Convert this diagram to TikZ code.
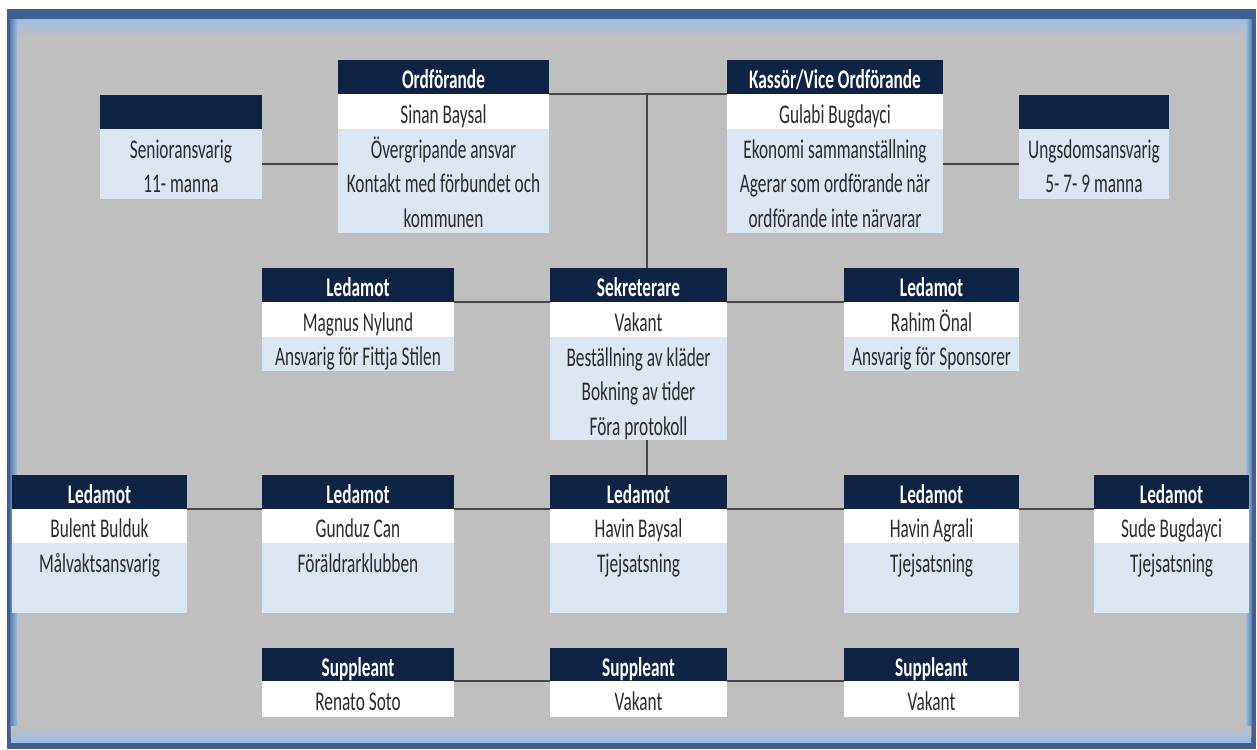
\documentclass[tikz,border=0pt]{standalone}
\usepackage{fontspec}
\setmainfont{Carlito}[FakeStretch=0.64]
\definecolor{navy}{HTML}{0F2345}
\definecolor{lightrow}{HTML}{DCE6F2}
\definecolor{bggray}{HTML}{BFBFBF}
\definecolor{frameblue}{HTML}{3D6192}
\definecolor{framelight}{HTML}{9FBCE2}
\definecolor{linegray}{HTML}{474747}
\definecolor{txtgray}{HTML}{2B2B2B}
\newcommand\cellnode[7]{%
  \node[#1, minimum width={((#4)-(#3))*1pt}, minimum height={((#6)-(#5))*1pt}] (#2) at (#3,#5) {#7};}
\newcommand\rowtext[4]{%
  \node[rowtxt] (#1) at ([yshift={-(#3)*34.6pt}]#2.north) {#4};}
\begin{document}
\begin{tikzpicture}[x=1pt,y=-1pt,
  every node/.style={font=\fontsize{27}{32}\selectfont},
  cellbase/.style={rectangle, inner sep=0pt, outer sep=0pt, anchor=north west,
    text height=27pt, text depth=3.6pt},
  hdrcell/.style={cellbase, fill=navy, text=white, font=\fontsize{27}{32}\selectfont\bfseries},
  whitecell/.style={cellbase, fill=white, text=txtgray},
  lightcell/.style={cellbase, fill=lightrow, text=txtgray},
  rowtxt/.style={inner sep=0pt, text height=27pt, text depth=3.6pt,
    minimum height=34.6pt, anchor=north, text=txtgray},
  conn/.style={draw=linegray, line width=2pt},
]
\useasboundingbox (0,0) rectangle (1257,749);
% frame
\fill[white] (0,0) rectangle (1257,749);
\fill[frameblue] (7,9) rectangle (1256,749);
\shade[top color=framelight, bottom color=bggray] (11,20) rectangle (1251,36);
\shade[left color=frameblue!70!framelight, right color=framelight] (10,20) rectangle (17,736);
\shade[right color=frameblue!70!framelight, left color=framelight] (1246,20) rectangle (1252,736);
\shade[top color=bggray, bottom color=framelight] (11,726) rectangle (1251,742);
\fill[bggray] (17,34) rectangle (1246,727);

% ---- top row
\cellnode{hdrcell}{senH}{100}{262}{95}{129}{}
\cellnode{lightcell}{senL}{100}{262}{129}{199}{}
\rowtext{senL1}{senL}{0}{Senioransvarig}
\rowtext{senL2}{senL}{1}{11- manna}

\cellnode{hdrcell}{ordH}{338}{549}{60}{94.5}{Ordförande}
\cellnode{whitecell}{ordW}{338}{549}{94.5}{129}{Sinan Baysal}
\cellnode{lightcell}{ordL}{338}{549}{129}{233}{}
\rowtext{ordL1}{ordL}{0}{Övergripande ansvar}
\rowtext{ordL2}{ordL}{1}{Kontakt med förbundet och}
\rowtext{ordL3}{ordL}{2}{kommunen}

\cellnode{hdrcell}{kasH}{727}{943}{60}{94.5}{Kassör/Vice Ordförande}
\cellnode{whitecell}{kasW}{727}{943}{94.5}{129}{Gulabi Bugdayci}
\cellnode{lightcell}{kasL}{727}{943}{129}{233}{}
\rowtext{kasL1}{kasL}{0}{Ekonomi sammanställning}
\rowtext{kasL2}{kasL}{1}{Agerar som ordförande när}
\rowtext{kasL3}{kasL}{2}{ordförande inte närvarar}

\cellnode{hdrcell}{ungH}{1019}{1169}{95}{129}{}
\cellnode{lightcell}{ungL}{1019}{1169}{129}{199}{}
\rowtext{ungL1}{ungL}{0}{Ungsdomsansvarig}
\rowtext{ungL2}{ungL}{1}{5- 7- 9 manna}

% ---- second row
\cellnode{hdrcell}{ledaH}{262}{454}{268}{302}{Ledamot}
\cellnode{whitecell}{ledaW}{262}{454}{302}{337}{Magnus Nylund}
\cellnode{lightcell}{ledaL}{262}{454}{337}{371}{Ansvarig för Fittja Stilen}

\cellnode{hdrcell}{sekH}{550}{727}{268}{302}{Sekreterare}
\cellnode{whitecell}{sekW}{550}{727}{302}{337}{Vakant}
\cellnode{lightcell}{sekL}{550}{727}{337}{440}{}
\rowtext{sekL1}{sekL}{0}{Beställning av kläder}
\rowtext{sekL2}{sekL}{1}{Bokning av tider}
\rowtext{sekL3}{sekL}{2}{Föra protokoll}

\cellnode{hdrcell}{ledbH}{844}{1019}{268}{302}{Ledamot}
\cellnode{whitecell}{ledbW}{844}{1019}{302}{337}{Rahim Önal}
\cellnode{lightcell}{ledbL}{844}{1019}{337}{371}{Ansvarig för Sponsorer}

% ---- third row
\cellnode{hdrcell}{bulH}{12}{187}{475}{509}{Ledamot}
\cellnode{whitecell}{bulW}{12}{187}{509}{543}{Bulent Bulduk}
\cellnode{lightcell}{bulL}{12}{187}{543}{613}{}
\rowtext{bulL1}{bulL}{0}{Målvaktsansvarig}

\cellnode{hdrcell}{gunH}{262}{454}{475}{509}{Ledamot}
\cellnode{whitecell}{gunW}{262}{454}{509}{543}{Gunduz Can}
\cellnode{lightcell}{gunL}{262}{454}{543}{613}{}
\rowtext{gunL1}{gunL}{0}{Föräldrarklubben}

\cellnode{hdrcell}{hbH}{550}{727}{475}{509}{Ledamot}
\cellnode{whitecell}{hbW}{550}{727}{509}{543}{Havin Baysal}
\cellnode{lightcell}{hbL}{550}{727}{543}{613}{}
\rowtext{hbL1}{hbL}{0}{Tjejsatsning}

\cellnode{hdrcell}{haH}{844}{1019}{475}{509}{Ledamot}
\cellnode{whitecell}{haW}{844}{1019}{509}{543}{Havin Agrali}
\cellnode{lightcell}{haL}{844}{1019}{543}{613}{}
\rowtext{haL1}{haL}{0}{Tjejsatsning}

\cellnode{hdrcell}{sudH}{1094}{1249}{475}{509}{Ledamot}
\cellnode{whitecell}{sudW}{1094}{1249}{509}{543}{Sude Bugdayci}
\cellnode{lightcell}{sudL}{1094}{1249}{543}{613}{}
\rowtext{sudL1}{sudL}{0}{Tjejsatsning}

% ---- fourth row
\cellnode{hdrcell}{supaH}{262}{454}{648}{681}{Suppleant}
\cellnode{whitecell}{supaW}{262}{454}{681}{717}{Renato Soto}
\cellnode{hdrcell}{supbH}{550}{727}{648}{681}{Suppleant}
\cellnode{whitecell}{supbW}{550}{727}{681}{717}{Vakant}
\cellnode{hdrcell}{supcH}{844}{1019}{648}{681}{Suppleant}
\cellnode{whitecell}{supcW}{844}{1019}{681}{717}{Vakant}

% ---- connectors
\coordinate (spine) at (647,94.5);
\draw[conn] (senL.east) -- (senL.east -| ordL.west);
\draw[conn] (ordH.south east) -- (kasH.south west);
\draw[conn] (ungL.west) -- (ungL.west -| kasL.east);
\draw[conn] (spine) -- (spine |- sekH.north);
\draw[conn] (spine |- sekL.south) -- (spine |- hbH.north);
\draw[conn] (ledaH.south east) -- (sekH.south west);
\draw[conn] (sekH.south east) -- (ledbH.south west);
\draw[conn] (bulH.south east) -- (gunH.south west);
\draw[conn] (gunH.south east) -- (hbH.south west);
\draw[conn] (hbH.south east) -- (haH.south west);
\draw[conn] (haH.south east) -- (sudH.south west);
\draw[conn] (supaH.south east) -- (supbH.south west);
\draw[conn] (supbH.south east) -- (supcH.south west);
\end{tikzpicture}
\end{document}
